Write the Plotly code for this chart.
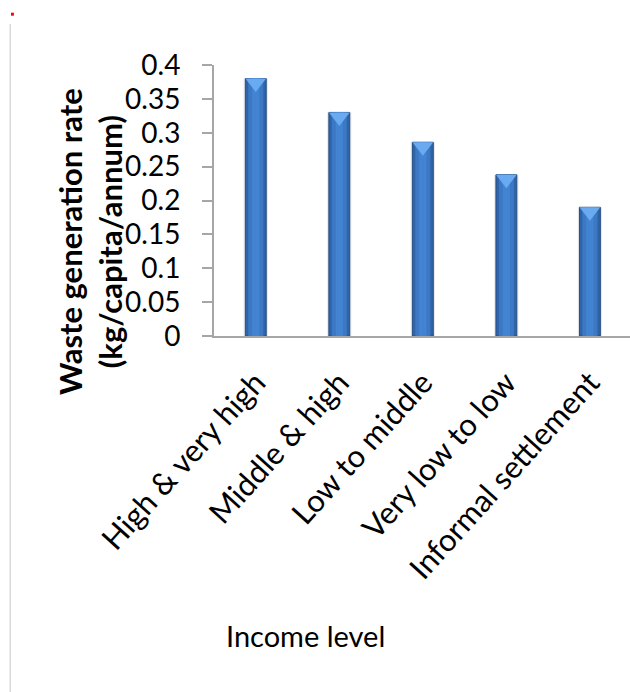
import plotly.graph_objects as go

# Waste generation by income level
categories = ["High & very high", "Middle & high", "Low to middle",
              "Very low to low", "Informal settlement"]
waste_rate = [0.38, 0.33, 0.286, 0.238, 0.19]

y_tick_vals = [0, 0.05, 0.1, 0.15, 0.2, 0.25, 0.3, 0.35, 0.4]
y_tick_text = ["0", "0.05", "0.1", "0.15", "0.2", "0.25", "0.3", "0.35", "0.4"]

FONT = "Lato, 'Open Sans', sans-serif"
AXIS_GREY = "#a6a6a6"
BAR_W = 0.25

fig = go.Figure()

# soft shadow under each bar
fig.add_trace(go.Bar(
    x=categories, y=waste_rate, width=BAR_W + 0.04,
    marker=dict(color="rgba(120,120,120,0.18)", line=dict(width=0)),
    hoverinfo="skip", showlegend=False,
))
# main column body with dark rim
fig.add_trace(go.Bar(
    x=categories, y=waste_rate, width=BAR_W,
    marker=dict(color="#2f64a8", line=dict(color="#244f86", width=1)),
    showlegend=False,
))
# lighter body
fig.add_trace(go.Bar(
    x=categories, y=waste_rate, width=BAR_W * 0.72,
    marker=dict(color="#3c78c4", line=dict(width=0)),
    hoverinfo="skip", showlegend=False,
))
# central highlight
fig.add_trace(go.Bar(
    x=categories, y=waste_rate, width=BAR_W * 0.35,
    marker=dict(color="#4384d2", line=dict(width=0)),
    hoverinfo="skip", showlegend=False,
))
# bevelled top cap
fig.add_trace(go.Scatter(
    x=categories, y=[v - 0.0066 for v in waste_rate], mode="markers",
    marker=dict(symbol="triangle-down", size=18, color="#6aaaf0",
                line=dict(width=0)),
    hoverinfo="skip", showlegend=False, cliponaxis=False,
))

fig.update_layout(
    width=630, height=692,
    margin=dict(l=214, r=0, t=65, b=356, pad=0),
    paper_bgcolor="white", plot_bgcolor="white",
    barmode="overlay",
    font=dict(family=FONT, color="#000000"),
    showlegend=False,
    xaxis=dict(
        type="category", range=[-0.5, 4.48],
        showline=True, linecolor=AXIS_GREY, linewidth=2,
        ticks="", tickangle=-48, showgrid=False, zeroline=False,
        tickfont=dict(family=FONT, size=31, color="#000000"),
        ticklabelstandoff=14,
    ),
    yaxis=dict(
        range=[0, 0.4], tickvals=y_tick_vals, ticktext=y_tick_text,
        showline=True, linecolor=AXIS_GREY, linewidth=2,
        ticks="outside", ticklen=10, tickcolor=AXIS_GREY, tickwidth=2,
        showgrid=False, zeroline=False,
        tickfont=dict(family=FONT, size=28, color="#000000"),
        ticklabelstandoff=16,
    ),
    annotations=[
        dict(text="<b>Waste generation rate</b><br><b>(kg/capita/annum)</b>",
             xref="paper", yref="paper", x=-0.298, y=0.347,
             xanchor="center", yanchor="middle", textangle=-90,
             showarrow=False, font=dict(family=FONT, size=31, color="#000000")),
        dict(text="Income level",
             xref="paper", yref="paper", x=0.219, y=-1.107,
             xanchor="center", yanchor="middle",
             showarrow=False, font=dict(family=FONT, size=29, color="#000000")),
    ],
    shapes=[
        dict(type="line", xref="paper", yref="paper",
             x0=-0.49, x1=-0.49, y0=1.151, y1=-1.32,
             line=dict(color="#c8c8c8", width=1)),
        dict(type="rect", xref="paper", yref="paper",
             x0=-0.488, x1=-0.481, y0=1.193, y1=1.182,
             fillcolor="#ff0000", line=dict(width=0)),
    ],
)

fig.write_html("out.html")
